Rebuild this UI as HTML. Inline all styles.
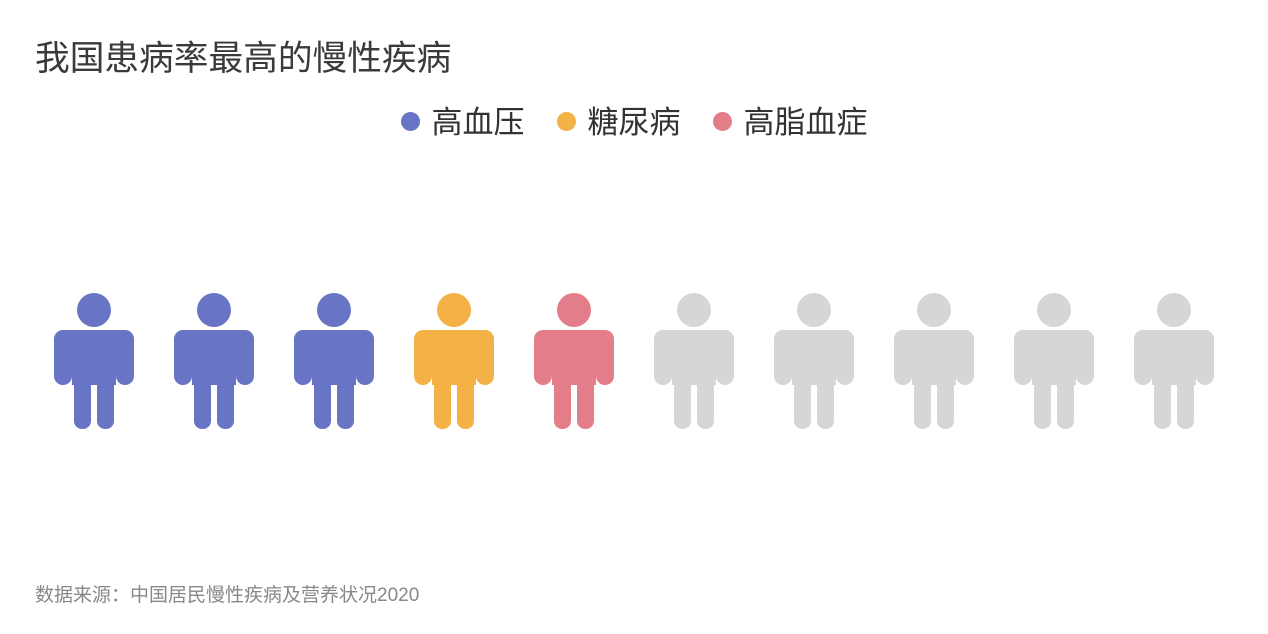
<!DOCTYPE html>
<html><head><meta charset="utf-8"><style>
body{margin:0;background:#fff;font-family:"Liberation Sans","Noto Sans CJK SC",sans-serif;}
#wrap{position:relative;width:1268px;height:634px;overflow:hidden;}
</style></head><body>
<div id="wrap">
<div style="position:absolute;left:35px;top:30px;font-size:34.7px;color:#3a3a3a;white-space:nowrap;">我国患病率最高的慢性疾病</div>
<div style="position:absolute;left:0;width:1268px;top:97px;text-align:center;font-size:31px;color:#333;" id="legend"></div>
<svg id="chart" width="1268" height="634" style="position:absolute;left:0;top:0"></svg>
<div style="position:absolute;left:35px;top:580px;font-size:19px;color:#888;white-space:nowrap;">数据来源：中国居民慢性疾病及营养状况2020</div>
</div>
<script>
const categories=["高血压","糖尿病","高脂血症"];
const counts=[3,1,1];
const colors=["#6874c4","#f4b146","#e47d8a"];
const total=10;
const legend=document.getElementById('legend');
categories.forEach((c,i)=>{
  const s=document.createElement('span');
  
  
  s.style.margin='0 16px';
  s.innerHTML='<span style="display:inline-block;width:19px;height:19px;border-radius:50%;background:'+colors[i]+';margin-right:12px;vertical-align:2px"></span>'+c;
  legend.appendChild(s);
});
const svg=document.getElementById('chart');
const NS='http://www.w3.org/2000/svg';
const fills=[];
counts.forEach((n,i)=>{for(let k=0;k<n;k++)fills.push(colors[i]);});
while(fills.length<total)fills.push('#d6d6d6');
function rect(g,x,y,w,h,r,f){const e=document.createElementNS(NS,'rect');e.setAttribute('x',x);e.setAttribute('y',y);e.setAttribute('width',w);e.setAttribute('height',h);e.setAttribute('rx',r);e.setAttribute('fill',f);g.appendChild(e);}
fills.forEach((f,i)=>{
  const x=54+i*120;
  const g=document.createElementNS(NS,'g');
  
  
  const c=document.createElementNS(NS,'circle');
  c.setAttribute('cx',x+40);c.setAttribute('cy',310);c.setAttribute('r',17);c.setAttribute('fill',f);g.appendChild(c);
  rect(g,x,330,80,30,10,f);
  rect(g,x,330,18,55,9,f);
  rect(g,x+62,330,18,55,9,f);
  rect(g,x+18,340,44,45,0,f);
  rect(g,x+20,350,17,79,8,f);
  rect(g,x+43,350,17,79,8,f);
  svg.appendChild(g);
});
</script>
</body></html>
